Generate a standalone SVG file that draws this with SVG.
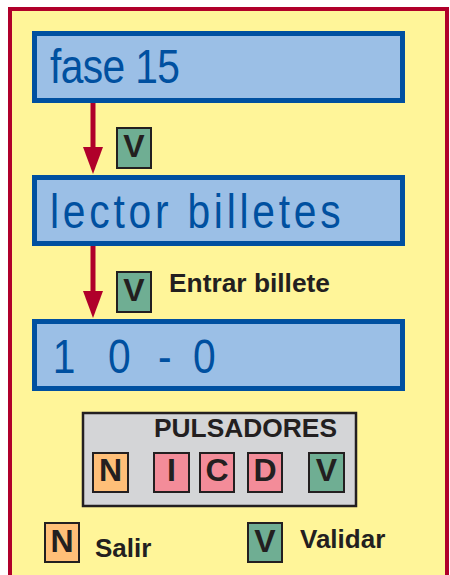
<svg xmlns="http://www.w3.org/2000/svg" width="450" height="575" viewBox="0 0 450 575">
<style>
.disp{fill:#9BBFE6;stroke:#0050A0;stroke-width:5}
.dt{font-family:"Liberation Sans",Arial,sans-serif;font-size:48px;fill:#0050A0}
.key{stroke:#231F20;stroke-width:2}
.kt{font-family:"Liberation Sans",Arial,sans-serif;font-weight:bold;font-size:32px;fill:#231F20;text-anchor:middle}
.lbl{font-family:"Liberation Sans",Arial,sans-serif;font-weight:bold;font-size:26px;fill:#231F20}
.conn{stroke:#B0002A;stroke-width:5;fill:none}
.g{fill:#6FAE93}.o{fill:#FFBF78}.p{fill:#F38C99}
</style>
<rect x="10" y="9" width="437" height="580" fill="#FFF599" stroke="#B0002A" stroke-width="4"/>
<g id="n1">
<rect class="disp" x="34.5" y="33.5" width="368" height="67"/>
<text class="dt" transform="translate(50,83) scale(0.85,1)" textLength="153" lengthAdjust="spacing">fase 15</text>
</g>
<g id="n2">
<rect class="disp" x="34.5" y="177.5" width="368" height="66"/>
<text class="dt" transform="translate(50,228) scale(0.85,1)" textLength="342" lengthAdjust="spacing">lector billetes</text>
</g>
<g id="n3">
<rect class="disp" x="34.5" y="321.5" width="368" height="67"/>
<text class="dt" transform="translate(0,373) scale(0.85,1)"><tspan x="62">1</tspan><tspan x="127">0</tspan><tspan x="186">-</tspan><tspan x="227">0</tspan></text>
</g>
<g id="connectors">
<path class="conn" d="M93,103 V150"/>
<path d="M83,147 L103,147 L93,174 Z" fill="#B0002A"/>
<path class="conn" d="M93,246 V294"/>
<path d="M83,291 L103,291 L93,318 Z" fill="#B0002A"/>
</g>
<g id="v1">
<rect class="key g" x="117" y="128" width="34" height="40"/>
<text class="kt" x="134" y="157">V</text>
</g>
<g id="v2">
<rect class="key g" x="117" y="272" width="34" height="40"/>
<text class="kt" x="134" y="301">V</text>
<text class="lbl" x="169" y="292" textLength="161" lengthAdjust="spacingAndGlyphs">Entrar billete</text>
</g>
<g id="pulsadores">
<rect x="83" y="413" width="273" height="93" fill="#D4D5D7" stroke="#231F20" stroke-width="2.5"/>
<text class="lbl" x="154" y="437" textLength="183" lengthAdjust="spacingAndGlyphs">PULSADORES</text>
<rect class="key o" x="93" y="453" width="35" height="39"/>
<text class="kt" x="110.5" y="481">N</text>
<rect class="key p" x="154" y="453" width="35" height="39"/>
<text class="kt" x="171.5" y="481">I</text>
<rect class="key p" x="200" y="453" width="34" height="39"/>
<text class="kt" x="217" y="481">C</text>
<rect class="key p" x="248" y="453" width="34" height="39"/>
<text class="kt" x="265" y="481">D</text>
<rect class="key g" x="309" y="453" width="35" height="39"/>
<text class="kt" x="326.5" y="481">V</text>
</g>
<g id="legendN">
<rect class="key o" x="45" y="523" width="34" height="39"/>
<text class="kt" x="62" y="552">N</text>
<text class="lbl" x="95" y="557">Salir</text>
</g>
<g id="legendV">
<rect class="key g" x="248" y="523" width="34" height="39"/>
<text class="kt" x="265" y="552">V</text>
<text class="lbl" x="300" y="548">Validar</text>
</g>
</svg>
